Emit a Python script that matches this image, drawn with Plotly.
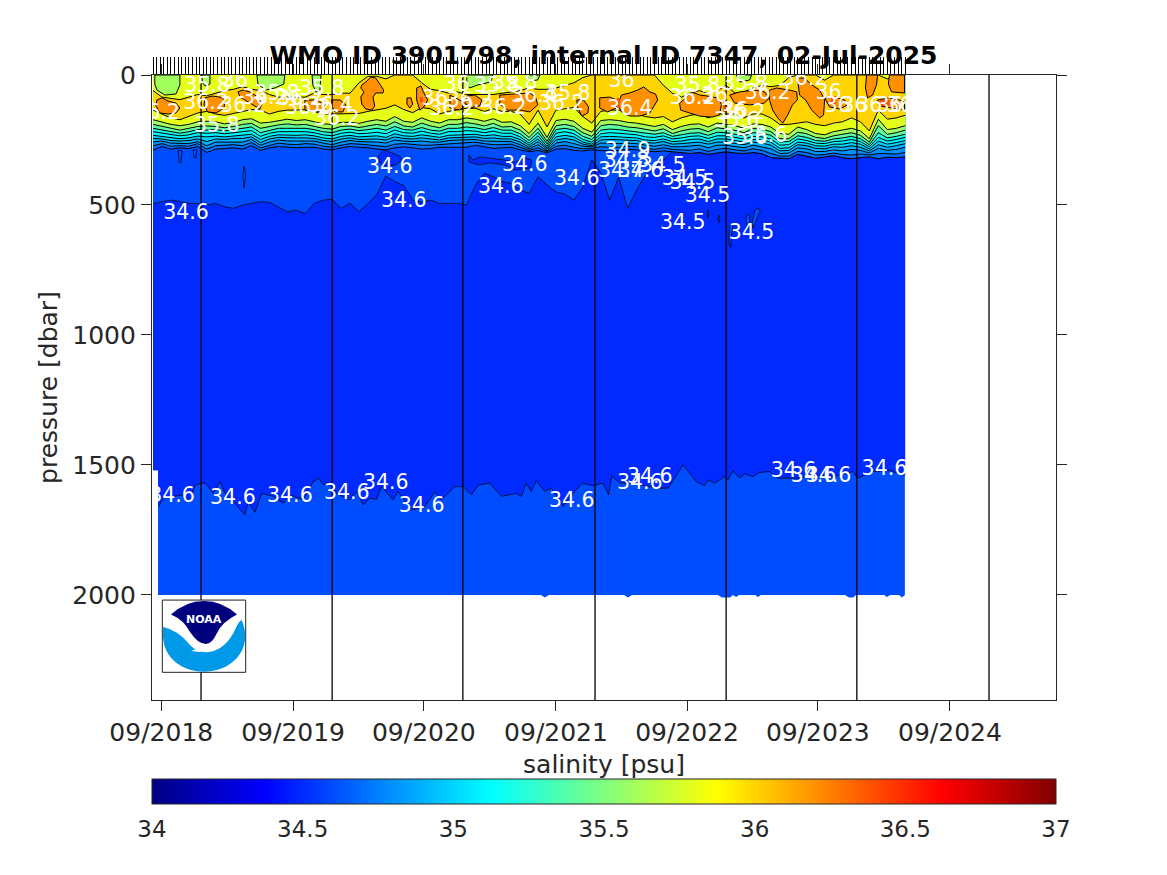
import plotly.graph_objects as go

title_text = "WMO ID 3901798, internal ID 7347, 02-Jul-2025"
tick_days = [-2, 366, 731, 1100, 1466, 1831, 2200]
tick_labels = ["09/2018", "09/2019", "09/2020", "09/2021", "09/2022", "09/2023", "09/2024"]
year_line_days = [109, 475, 840, 1209, 1575, 1940, 2309]
pressure_ticks = [0, 500, 1000, 1500, 2000]
salinity_ticks = [34, 34.5, 35, 35.5, 36, 36.5, 37]
salinity_labels = ["34", "34.5", "35", "35.5", "36", "36.5", "37"]

profile_days = [-25,-15,-5,5,15,25,35,45,55,65,75,85,95,105,115,125,135,145,155,165,175,185,195,205,215,225,235,245,255,265,275,285,295,305,315,325,335,345,355,365,
375,385,395,405,415,425,435,445,455,465,475,485,495,505,515,525,535,545,555,565,575,585,595,605,615,625,635,645,655,665,675,685,695,705,715,725,735,745,755,765,
775,785,795,805,815,825,835,845,855,865,875,885,895,905,915,925,935,945,955,965,975,985,995,1005,1015,1025,1035,1045,1055,1065,1075,1085,1095,1105,1115,1125,1135,1145,1155,1165,
1175,1185,1195,1205,1215,1225,1235,1245,1255,1265,1275,1285,1295,1305,1315,1325,1335,1345,1355,1365,1375,1385,1395,1405,1415,1425,1435,1445,1455,1465,1475,1485,1495,1505,1515,1525,1535,1545,1555,1565,
1575,1585,1595,1605,1615,1625,1635,1645,1655,1665,1675,1685,1695,1705,1715,1725,1735,1745,1755,1765,1775,1785,1795,1805,1815,1825,1835,1845,1855,1865,1875,1885,1895,1905,1915,1925,1935,1945,1955,1965,
1975,1985,1995,2005,2015,2025,2035,2045,2055,2065,2075]

col_days = [-25,0,25,50,75,100,125,150,175,200,225,250,275,300,325,350,375,400,425,450,475,500,525,550,575,600,625,650,675,700,725,750,775,800,825,850,875,900,925,950,975,1000,1025,1050,1075,1100,1125,1150,1175,1200,1225,1250,1275,1300,1325,1350,1375,1400,1425,1450,1475,1500,1525,1550,1575,1600,1625,1650,1675,1700,1725,1750,1775,1800,1825,1850,1875,1900,1925,1950,1975,2000,2025,2050,2075]

iso_36_0_top = [60,85,90,95,85,75,80,70,60,55,45,55,60,75,85,85,85,85,70,75,75,70,70,30,5,5,15,0,0,0,30,55,60,70,65,75,75,75,75,70,65,60,50,55,55,50,40,30,10,0,0,0,0,0,0,0,0,40,70,85,70,60,70,60,40,70,65,50,40,45,40,10,0,0,0,20,0,0,0,0,0,0,15,0,0]
iso_36_0 = [135,150,165,172,160,146,140,150,155,148,140,133,135,150,140,135,135,133,140,150,150,150,150,148,140,135,128,115,133,145,125,130,150,140,135,128,128,140,130,140,140,150,190,135,200,135,130,125,160,185,140,135,135,145,150,160,165,160,180,165,155,150,165,150,150,150,165,150,150,165,190,190,185,180,190,195,185,180,165,180,215,135,170,165,155]
iso_35_8 = [172,180,190,195,190,180,178,180,188,182,172,168,185,182,175,170,175,172,180,188,190,182,182,186,178,172,178,160,178,182,165,178,185,172,172,165,170,178,168,182,180,195,225,185,240,175,170,178,205,220,175,172,175,182,185,192,198,190,210,198,190,188,200,185,190,195,205,188,190,200,225,228,200,210,225,230,218,212,205,215,245,170,210,205,195]
iso_35_6 = [190,198,205,212,205,198,196,198,203,198,190,186,205,198,192,188,192,190,198,205,208,198,196,202,196,190,196,180,196,200,185,196,203,190,190,183,188,196,186,200,198,212,240,205,255,195,190,198,222,236,195,190,193,200,203,210,215,207,225,215,208,206,218,203,208,213,222,206,208,218,245,245,220,226,240,244,234,228,222,232,258,195,228,222,212]
iso_35_4 = [205,212,218,224,218,210,212,210,215,210,205,200,222,212,205,205,206,205,210,218,222,212,208,214,210,205,212,198,210,212,202,212,216,205,205,200,203,210,202,212,212,226,252,220,265,210,205,212,236,248,212,208,210,215,218,225,228,222,236,230,224,222,232,220,222,228,234,222,224,232,258,256,234,240,252,255,246,242,236,245,268,222,242,236,228]
iso_35_2 = [218,224,228,234,230,222,224,222,226,222,218,214,236,224,218,218,218,218,222,230,234,224,220,226,224,220,226,212,222,224,216,224,228,218,218,214,216,222,216,224,224,238,262,234,274,224,218,226,248,258,226,222,224,228,230,238,240,234,246,242,236,234,244,234,234,240,246,236,238,246,270,268,246,252,262,264,256,254,248,256,276,240,254,248,240]
iso_35_1 = [232,236,240,245,242,235,238,235,238,234,232,228,248,236,230,232,232,230,234,242,246,236,232,238,236,234,240,226,234,236,230,236,240,232,230,228,228,234,230,236,236,248,270,246,280,238,232,238,258,266,238,236,238,240,242,250,252,246,256,254,248,246,256,246,246,252,258,248,250,258,282,280,258,262,272,274,266,266,260,266,284,254,266,260,252]
iso_35_0 = [244,246,252,254,252,246,256,246,248,244,244,238,260,246,240,242,242,242,244,252,256,246,242,248,246,246,250,238,244,246,242,246,250,242,240,238,238,244,242,246,246,258,278,256,286,250,244,250,266,272,250,248,250,250,252,260,262,256,266,264,260,258,266,258,258,264,268,258,262,270,292,290,268,272,282,284,276,278,272,278,292,268,278,272,264]
iso_34_9 = [258,254,262,264,264,256,272,258,258,256,258,248,270,258,250,254,254,252,254,262,268,258,252,256,256,258,262,250,254,256,254,258,258,252,250,248,248,254,254,256,256,268,284,268,292,262,256,264,274,276,262,262,264,262,264,270,274,268,276,276,274,270,280,270,270,276,280,270,276,284,302,300,280,284,294,294,288,292,286,290,300,282,290,286,278]
iso_34_8 = [272,264,274,272,274,264,285,272,270,268,272,260,280,270,262,266,268,264,266,274,278,270,264,266,268,272,276,266,264,268,270,270,268,264,264,262,258,264,268,268,266,278,290,280,296,274,270,278,284,282,276,278,278,274,276,282,286,280,286,288,290,284,294,286,282,288,292,284,290,302,312,312,294,298,308,306,300,306,308,304,308,302,304,304,298]
iso_34_7 = [288,275,285,280,283,275,298,285,283,280,285,272,290,280,275,278,280,278,278,285,288,280,275,278,280,285,288,280,276,280,285,283,278,278,278,278,270,275,282,280,278,288,295,290,300,285,283,290,292,288,290,292,290,285,288,292,295,292,295,298,302,298,305,300,295,300,302,298,303,318,320,322,305,312,320,315,310,318,322,318,315,322,316,318,315]
iso_34_6_upper = [494,487,481,487,494,494,500,494,507,513,500,494,487,490,507,526,520,533,494,481,478,513,494,526,494,460,389,410,425,481,490,481,494,494,494,500,425,378,391,410,417,442,455,391,423,450,458,481,431,327,377,481,392,513,442,385,354,327,295,298,302,298,305,300,295,300,302,298,303,318,320,322,305,312,320,315,310,318,322,318,315,322,316,318,315]

lower_days = [-10,4,32,59,78,92,120,143,162,176,208,231,241,260,278,311,338,357,394,422,438,450,464,487,524,543,562,580,599,613,645,659,697,734,762,780,817,841,864,883,915,948,990,1003,1017,1031,1045,1069,1087,1120,1152,1174,1203,1231,1247,1256,1278,1315,1380,1413,1455,1492,1515,1524,1543,1571,1580,1594,1613,1627,1650,1668,1696,1720,1780,1827,1873,1929,1943,1985,2031,2068,2075]
iso_34_6_lower = [1660,1628,1621,1615,1641,1577,1568,1609,1564,1609,1654,1692,1641,1682,1609,1621,1647,1615,1634,1564,1551,1577,1566,1609,1634,1602,1654,1628,1632,1583,1634,1602,1673,1660,1602,1634,1583,1583,1615,1577,1570,1621,1609,1621,1570,1602,1561,1602,1589,1660,1602,1570,1579,1570,1615,1542,1570,1570,1589,1589,1500,1564,1580,1557,1570,1545,1557,1523,1551,1534,1545,1529,1525,1551,1551,1538,1545,1525,1551,1525,1521,1538,1538]

bottom_days = [-25,-11,-11,1058,1069,1080,1290,1301,1312,1552,1563,1586,1594,1603,1611,1656,1664,1672,1907,1918,1929,1938,2016,2024,2033,2058,2066,2074]
bottom_p = [1520,1520,2000,2000,2010,2000,2000,2010,2000,2000,2010,2010,2000,2008,2000,2000,2008,2000,2000,2010,2010,2000,2000,2008,2000,2000,2010,2000]

orange_days = [
 [-14,0,17,39,50,39,17,-6,-17],[120,140,162,176,173,151,128,117],[212,226,245,268,279,273,254,232,218],
 [399,427,455,455,427,399],[474,497,513,505,483,474],[558,569,583,597,608,619,617,597,589,594,586,569,558,555,564,555],
 [684,695,700,692,684],[711,723,734,742,731,720,711],[804,831,848,831,804],[851,873,893,887,859,845],
 [943,977,1027,1043,1049,1027,999,965,943],[1158,1177,1191,1189,1172,1161],[1222,1250,1269,1269,1244,1222],
 [1283,1306,1328,1345,1362,1378,1384,1373,1362,1334,1306,1283,1272],[1445,1456,1479,1501,1523,1551,1562,1557,1535,1501,1473,1448],
 [1585,1613,1655,1682,1696,1682,1641,1599],[1696,1716,1752,1772,1774,1760,1747,1733,1719,1705,1696],
 [1774,1794,1814,1836,1850,1847,1836,1814,1797,1780],[1850,1878,1906,1914,1892,1864],[1967,1998,1995,1984,1970,1964],
 [1998,2031,2059,2073,2073,2031,2003],[2031,2073,2073,2037,2028]]
orange_p = [
 [96,88,100,108,127,146,150,146,119],[88,81,85,96,127,146,142,115],[65,58,65,85,112,131,115,96,85],
 [96,96,112,135,142,135],[96,96,115,142,142,119],[38,27,8,12,35,58,69,69,85,119,135,131,112,85,65,50],
 [88,88,112,127,112],[50,42,77,96,123,135,96],[77,96,115,135,127],[81,77,96,119,127,104],
 [77,73,69,85,115,142,135,135,112],[96,96,123,146,158,127],[88,85,96,127,142,127],
 [77,69,58,46,65,73,96,119,146,158,158,142,115],[108,96,65,77,81,88,112,154,162,158,146,135],
 [77,65,58,65,88,108,115,108],[58,50,58,65,96,115,154,185,165,135,96],
 [12,12,38,58,96,154,165,135,96,77],[88,85,96,115,131,123],[0,0,38,77,88,50],
 [96,88,96,104,135,127,119],[0,0,69,65,35]]
red_days = [[1270,1278,1278,1270],[1566,1575,1575,1566],[1868,1882,1882,1868],[2003,2031,2031,2003],[720,728,728,720]]
red_p = [[88,88,127,127],[96,96,142,142],[81,81,112,112],[96,96,119,119],[85,85,105,105]]
green_days = [[-20,50,50,39,8,-14,-20],[112,134,134,120,112],[265,343,340,315,290,268],[419,444,441,430,421],[851,924,918,882,859,851],[1018,1055,1049,1027],[1604,1646,1641,1613]]
green_p = [[0,0,38,73,77,58,35],[0,0,35,42,27],[0,0,35,50,58,35],[0,0,58,65,38],[0,0,27,38,50,35],[0,0,19,23],[0,0,19,27]]
dark_patch_days = [[603,619,642,664,670,653,625,608],[857,868,887,915,957,985,1013,1032,1027,985,957,915,887,857]]
dark_patch_p = [[312,288,300,312,327,346,350,338],[308,327,315,319,327,335,319,327,358,365,346,338,346,335]]
light_patch_days = [[229,234,229,226],[45,48,53,56],[87,90,95,98],[1524,1527,1524,1522],[1555,1558,1555,1553],[1585,1594,1590,1588,1584,1583],[1633,1640,1642,1638,1633,1630],[1655,1665,1670,1660,1650,1647]]
light_patch_p = [[350,385,435,390],[288,335,338,292],[288,319,319,288],[519,535,550,535],[538,553,569,553],[580,575,620,662,650,610],[535,540,560,589,575,555],[520,512,525,560,589,570]]

label_days = [28,198,357,516,625,725,1144,1334,1362,1763,1819,1861,2017,
 67,636,675,1013,946,1158,1300,1297,1281,1336,1398,1459,1481,1523,1454,1646,
 126,204,123,-14,153,226,287,321,385,446,407,469,488,762,809,954,823,935,985,859,
 1283,1306,1495,1481,1543,1116,1133,1038,1627,1691,1621,1599,1604,1627,1682,1794,1861,1886,1933,1975,2031,2059]
label_p = [1621,1629,1621,1610,1571,1660,1641,1571,1548,1525,1544,1544,1517,
 533,356,487,348,433,402,294,333,371,371,352,402,418,468,571,610,
 44,25,110,148,198,121,91,75,94,56,129,121,171,94,133,129,41,44,33,102,
 25,133,44,91,83,114,75,83,37,71,148,141,179,244,237,18,71,121,121,121,121,121]
label_text = ["34.6"]*13 + ["34.6","34.6","34.6","34.6","34.6","34.6","34.9","34.8","34.7","34.6","34.5","34.5","34.5","34.5","34.5","34.5",
 "35.8","36","36.2","36.2","35.8","36.2","36.2","35.8","36.2","35.8","36.2","36.4","36.2","36","36.2","36.2","36","35.8","35.8","36.2",
 "36","36.4","35.8","36.2","36","36.2","35.8","36.4","35.8","36.2","36.2","36","35.6","35.6","35.6","36.2","36","36","36","36","36","36"]

band_colors = {"34.5":"rgb(0,42,255)","34.6":"rgb(0,76,255)","34.7":"rgb(0,110,255)","34.8":"rgb(0,145,255)","34.9":"rgb(0,178,255)",
 "35.0":"rgb(0,212,255)","35.1":"rgb(0,247,255)","35.2":"rgb(25,255,230)","35.4":"rgb(94,255,161)","35.6":"rgb(161,255,94)",
 "35.8":"rgb(230,255,25)","36.0":"rgb(255,212,0)","36.2":"rgb(255,145,0)","36.4":"rgb(255,76,0)"}
jet = [[0,"rgb(0,0,130)"],[0.125,"rgb(0,0,255)"],[0.375,"rgb(0,255,255)"],[0.625,"rgb(255,255,0)"],[0.875,"rgb(255,0,0)"],[1,"rgb(128,0,0)"]]

LINE = dict(color="black", width=1)
THIN = dict(color="black", width=0.7)
INK = "#262626"
FONT = "DejaVu Sans"
W, H = 1167, 875
L, R, T, B = 152, 1056, 74.5, 700

def flat(groups):
    out = []
    for g in groups:
        out += list(g) + [g[0], None]
    return out

fig = go.Figure()
fig.add_trace(go.Scatter(x=bottom_days, y=bottom_p, mode="lines", fill="tozeroy", fillcolor=band_colors["34.6"], line=dict(width=0, color=band_colors["34.6"])))
fig.add_trace(go.Scatter(x=bottom_days[:2]+lower_days, y=bottom_p[:2]+iso_34_6_lower, mode="lines", line=dict(width=0)))
fig.add_trace(go.Scatter(x=col_days, y=iso_34_6_upper, mode="lines", fill="tonexty", fillcolor=band_colors["34.5"], line=THIN))
fig.add_trace(go.Scatter(x=lower_days, y=iso_34_6_lower, mode="lines", line=THIN))
fig.add_trace(go.Scatter(x=flat(dark_patch_days), y=flat(dark_patch_p), mode="lines", fill="toself", fillcolor=band_colors["34.5"], line=THIN))
fig.add_trace(go.Scatter(x=flat(light_patch_days), y=flat(light_patch_p), mode="lines", fill="toself", fillcolor=band_colors["34.6"], line=THIN))
for level, values in [("34.7",iso_34_7),("34.8",iso_34_8),("34.9",iso_34_9),("35.0",iso_35_0),("35.1",iso_35_1),("35.2",iso_35_2),("35.4",iso_35_4),("35.6",iso_35_6),("35.8",iso_35_8),("36.0",iso_36_0)]:
    fig.add_trace(go.Scatter(x=col_days, y=values, mode="lines", fill="tozeroy", fillcolor=band_colors[level], line=LINE))
fig.add_trace(go.Scatter(x=col_days, y=iso_36_0_top, mode="lines", fill="tozeroy", fillcolor=band_colors["35.8"], line=LINE))
fig.add_trace(go.Scatter(x=flat(green_days), y=flat(green_p), mode="lines", fill="toself", fillcolor=band_colors["35.6"], line=LINE))
fig.add_trace(go.Scatter(x=flat(orange_days), y=flat(orange_p), mode="lines", fill="toself", fillcolor=band_colors["36.2"], line=LINE))
fig.add_trace(go.Scatter(x=flat(red_days), y=flat(red_p), mode="lines", fill="toself", fillcolor=band_colors["36.4"], line=dict(width=0)))
yx, yy = [], []
for d in year_line_days:
    yx += [d, d, None]
    yy += [0, 2404, None]
fig.add_trace(go.Scatter(x=yx, y=yy, mode="lines", line=dict(color="black", width=1.3)))
fig.add_trace(go.Scatter(x=label_days, y=label_p, mode="text", text=label_text, textposition="middle center",
                         textfont=dict(color="white", size=20.5, family=FONT), cliponaxis=False))
fig.add_trace(go.Scatter(x=profile_days, y=[0]*len(profile_days), xaxis="x2", mode="markers", marker=dict(size=1, opacity=0)))
fig.add_trace(go.Scatter(x=[-5000,-5000], y=[100,100], mode="markers",
    marker=dict(color=[34,37], cmin=34, cmax=37, colorscale=jet, showscale=True, size=1,
        colorbar=dict(orientation="h", xref="paper", x=0, xanchor="left", yref="container", y=1-779/H, yanchor="top", len=1, lenmode="fraction",
            thickness=25, thicknessmode="pixels", xpad=0, ypad=0, outlinecolor=INK, outlinewidth=1,
            tickmode="array", tickvals=salinity_ticks, ticktext=salinity_labels, ticks="outside", ticklen=5, tickcolor="white", tickwidth=1,
            tickfont=dict(size=23, color=INK, family=FONT)))))

def px(x): return (x - L) / (R - L)
def py(y): return (B - y) / (B - T)
def path(cmds):
    out = []
    for c in cmds:
        out.append(c[0] + " ".join(f"{px(c[i]):.5f} {py(c[i+1]):.5f}" for i in range(1, len(c), 2)))
    return " ".join(out) + " Z"

shapes = [
 dict(type="rect", xref="paper", yref="paper", x0=px(162.3), x1=px(245.7), y0=py(672.3), y1=py(600), fillcolor="white", line=dict(color="#222", width=1), layer="above"),
 dict(type="path", xref="paper", yref="paper", fillcolor="#0099e8", line=dict(width=0), layer="above",
      path=path([("M",163,627),("Q",178,630,190,645),("Q",197,653,209,652),("Q",225,650,235,630),("Q",238,622,241.7,620),("Q",246,630,245,640),("C",243,658,226,671.7,204,671.7),("C",182,671.7,164,658,163,637)])),
 dict(type="path", xref="paper", yref="paper", fillcolor="#00007f", line=dict(width=0), layer="above",
      path=path([("M",171,614.5),("Q",186,601,204,601),("Q",222,601,237,614.5),("Q",222,622,217,633),("Q",212,644,206,644),("Q",198,644,190,632),("Q",184,620,171,614.5)])),
 dict(type="path", xref="paper", yref="paper", fillcolor="white", line=dict(width=0), layer="above",
      path=path([("M",191,651),("L",205,646),("L",222,643.5),("L",215,646),("L",207,648),("L",200,652)])),
]
for s in salinity_ticks[1:-1]:
    f = (s - 34) / 3
    shapes.append(dict(type="line", xref="paper", yref="paper", x0=f, x1=f, y0=py(804), y1=py(795), line=dict(color=INK, width=1), layer="above"))

fig.update_layout(
    width=W, height=H, margin=dict(l=L, r=W-R, t=T, b=H-B, pad=0, autoexpand=False), autosize=False,
    plot_bgcolor="white", paper_bgcolor="white", showlegend=False, hovermode=False,
    title=dict(text=f"<b>{title_text}</b>", x=(270+937)/2/W, xanchor="center", y=1-55/H, yanchor="middle", yref="container",
               font=dict(size=25, color="black", family=FONT)),
    font=dict(family=FONT, color=INK),
    shapes=shapes,
    annotations=[dict(text="<b>NOAA</b>", xref="paper", yref="paper", x=px(204), y=py(619.5), xanchor="center", yanchor="middle", showarrow=False,
                      font=dict(color="white", size=11, family=FONT))],
    xaxis=dict(range=[-27.9, 2496], tickmode="array", tickvals=tick_days, ticktext=tick_labels, ticks="outside", ticklen=10, tickwidth=1,
               tickcolor=INK, showline=True, linecolor=INK, linewidth=1.2, mirror="allticks", showgrid=False, zeroline=False,
               tickfont=dict(size=25, color=INK, family=FONT),
               title=dict(text="salinity [psu]", font=dict(size=25, color=INK, family=FONT), standoff=15)),
    xaxis2=dict(range=[-27.9, 2496], overlaying="x", side="top", tickmode="array", tickvals=profile_days, ticks="outside", ticklen=17,
                tickwidth=1, tickcolor="black", showticklabels=False, showgrid=False, zeroline=False, showline=False),
    yaxis=dict(range=[2404, 0], tickmode="array", tickvals=pressure_ticks, ticks="outside", ticklen=10, tickwidth=1, tickcolor=INK,
               showline=True, linecolor=INK, linewidth=1.2, mirror="allticks", showgrid=False, zeroline=False,
               tickfont=dict(size=25, color=INK, family=FONT),
               title=dict(text="pressure [dbar]", font=dict(size=25, color=INK, family=FONT), standoff=7)),
)

for name, arr in [("j",iso_34_7),("i",iso_34_8),("h",iso_34_9),("g",iso_35_0),("f",iso_35_1),("e",iso_35_2),("d",iso_35_4),("c",iso_35_6),("b",iso_35_8),("a",iso_36_0),("t",iso_36_0_top),("m",iso_34_6_upper)]:
    assert len(arr) == len(col_days), (name, len(arr), len(col_days))
assert len(lower_days) == len(iso_34_6_lower), (len(lower_days), len(iso_34_6_lower))
assert len(label_days) == len(label_p) == len(label_text), (len(label_days), len(label_p), len(label_text))

fig.write_html("out.html", post_script="document.body.style.margin='0';", config=dict(displayModeBar=False))
